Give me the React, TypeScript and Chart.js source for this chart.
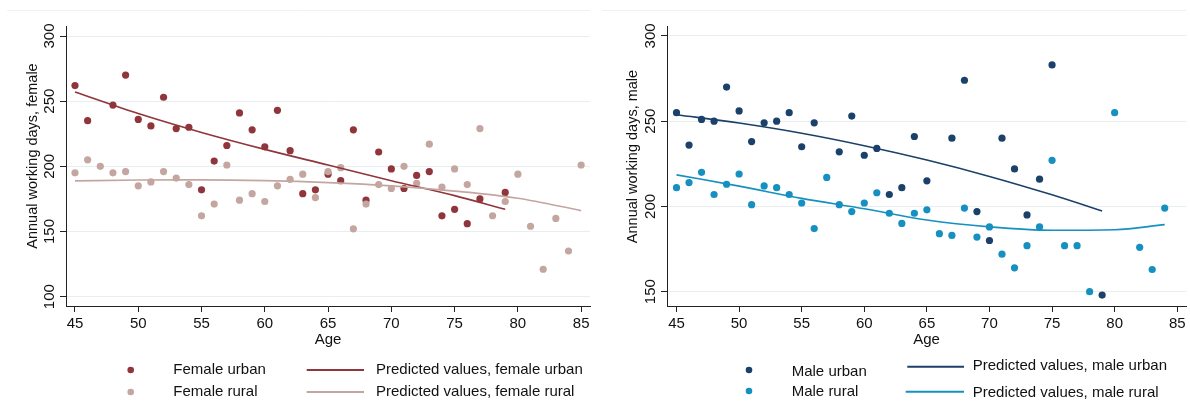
import React, { useEffect, useRef } from 'react';
import { Chart, registerables } from 'chart.js';

Chart.register(...registerables);

const FONT = '"Liberation Sans", Arial, Helvetica, sans-serif';

// ---------- data ----------
const xTicks = [45, 50, 55, 60, 65, 70, 75, 80, 85];
const femaleYTicks = [100, 150, 200, 250, 300];
const maleYTicks = [150, 200, 250, 300];

const femaleUrbanAge = [45, 46, 48, 49, 50, 51, 52, 53, 54, 55, 56, 57, 58, 59, 60, 61, 62, 63, 64, 65, 66, 67, 68, 69, 70, 71, 72, 73, 74, 75, 76, 77, 79];
const femaleUrbanDays = [262, 235, 247, 270, 236, 231, 253, 229, 230, 182, 204, 216, 241, 228, 215, 243, 212, 179, 182, 194, 189, 228, 174, 211, 198, 183, 193, 196, 162, 167, 156, 175, 180];

const femaleRuralAge = [45, 46, 47, 48, 49, 50, 51, 52, 53, 54, 55, 56, 57, 58, 59, 60, 61, 62, 63, 64, 65, 66, 67, 68, 69, 70, 71, 72, 73, 74, 75, 76, 77, 78, 79, 80, 81, 82, 83, 84, 85];
const femaleRuralDays = [195, 205, 200, 195, 196, 185, 188, 196, 191, 186, 162, 171, 201, 174, 179, 173, 185, 190, 194, 176, 196, 199, 152, 171, 186, 183, 200, 187, 217, 184, 198, 186, 229, 162, 173, 194, 154, 121, 160, 135, 201];

const femaleUrbanFitAge = [45, 50, 55, 60, 65, 70, 75, 79];
const femaleUrbanFit = [257, 240.5, 226, 213, 201, 189, 177.5, 167];
const femaleRuralFitAge = [45, 50, 55, 60, 65, 70, 75, 80, 85];
const femaleRuralFit = [188.8, 189.5, 189.6, 189, 187.5, 185, 181, 175.5, 166];

const maleUrbanAge = [45, 46, 47, 48, 49, 50, 51, 52, 53, 54, 55, 56, 58, 59, 60, 61, 62, 63, 64, 65, 67, 68, 69, 70, 71, 72, 73, 74, 75, 79];
const maleUrbanDays = [255, 236, 251, 250, 270, 256, 238, 249, 250, 255, 235, 249, 232, 253, 230, 234, 207, 211, 241, 215, 240, 274, 197, 180, 240, 222, 195, 216, 283, 148];

const maleRuralAge = [45, 46, 47, 48, 49, 50, 51, 52, 53, 54, 55, 56, 57, 58, 59, 60, 61, 62, 63, 64, 65, 66, 67, 68, 69, 70, 71, 72, 73, 74, 75, 76, 77, 78, 80, 82, 83, 84];
const maleRuralDays = [211, 214, 220, 207, 213, 219, 201, 212, 211, 207, 202, 187, 217, 201, 197, 202, 208, 196, 190, 196, 198, 184, 183, 199, 182, 188, 172, 164, 177, 188, 227, 177, 177, 150, 255, 176, 163, 199];

const maleUrbanFitAge = [45, 50, 55, 60, 65, 70, 75, 79];
const maleUrbanFit = [253.8, 248.9, 242.9, 235.6, 227.2, 217.6, 206.8, 197.3];
const maleRuralFitAge = [45, 50, 55, 60, 65, 70, 75, 80, 84];
const maleRuralFit = [218.5, 211.9, 204.7, 198.6, 192, 188, 186, 186.3, 189.3];

// ---------- styles ----------
const C_FU = '#8f353b';
const C_FR = '#c4a6a1';
const C_MU = '#1b416a';
const C_MR = '#1690c0';

type Series = { ages: number[]; values: number[]; color: string; kind: 'dot' | 'line'; order: number };
type LegendItem = { kind: 'dot' | 'line'; color: string; x: number; x2?: number; y: number; text: string; tx: number; ty: number };

type PanelCfg = {
  series: Series[];
  xMin: number; xMax: number; yMin: number; yMax: number;
  yTicks: number[];
  yAxisW: number; padRight: number;
  yTitle: string; yTitleX: number; yTitleY: number; yLabelX: number;
  legend: LegendItem[];
};

function makeChart(canvas: HTMLCanvasElement, cfg: PanelCfg) {
  const datasets = cfg.series.map((s) => ({
    data: s.ages.map((a, i) => ({ x: a, y: s.values[i] })),
    showLine: s.kind === 'line',
    borderColor: s.color,
    backgroundColor: s.color,
    borderWidth: s.kind === 'line' ? 1.6 : 0,
    pointRadius: s.kind === 'dot' ? 3.6 : 0,
    pointBorderWidth: 0,
    pointBackgroundColor: s.color,
    cubicInterpolationMode: 'monotone' as const,
    order: s.order,
  }));

  const textPlugin = {
    id: 'panelText',
    beforeDraw(chart: any) {
      const ctx = chart.ctx;
      const a = chart.chartArea;
      ctx.save();
      ctx.strokeStyle = '#edf3f5';
      ctx.lineWidth = 1;
      ctx.beginPath();
      ctx.moveTo(7, 10.5);
      ctx.lineTo(a.right, 10.5);
      ctx.stroke();
      ctx.restore();
    },
    afterDraw(chart: any) {
      const ctx = chart.ctx;
      const a = chart.chartArea;
      const ys = chart.scales.y;
      ctx.save();
      ctx.fillStyle = '#111';
      ctx.font = `15px ${FONT}`;
      ctx.textAlign = 'center';
      ctx.textBaseline = 'middle';
      for (const v of cfg.yTicks) {
        const py = ys.getPixelForValue(v);
        ctx.save();
        ctx.translate(cfg.yLabelX, py);
        ctx.rotate(-Math.PI / 2);
        ctx.fillText(String(v), 0, 0);
        ctx.restore();
      }
      ctx.save();
      ctx.translate(cfg.yTitleX, cfg.yTitleY);
      ctx.rotate(-Math.PI / 2);
      ctx.font = `14.5px ${FONT}`;
      ctx.fillText(cfg.yTitle, 0, 0);
      ctx.restore();

      ctx.fillText('Age', (a.left + a.right) / 2, 340);

      ctx.textAlign = 'left';
      for (const it of cfg.legend) {
        if (it.kind === 'dot') {
          ctx.fillStyle = it.color;
          ctx.beginPath();
          ctx.arc(it.x, it.y, 3.3, 0, Math.PI * 2);
          ctx.fill();
        } else {
          ctx.strokeStyle = it.color;
          ctx.lineWidth = 2;
          ctx.beginPath();
          ctx.moveTo(it.x, it.y);
          ctx.lineTo(it.x2 as number, it.y);
          ctx.stroke();
        }
        ctx.fillStyle = '#111';
        ctx.fillText(it.text, it.tx, it.ty);
      }
      ctx.restore();
    },
  };

  return new Chart(canvas, {
    type: 'scatter',
    data: { datasets: datasets as any },
    plugins: [textPlugin],
    options: {
      animation: false,
      responsive: false,
      maintainAspectRatio: false,
      devicePixelRatio: 1,
      layout: { padding: { left: 0, top: 26, right: cfg.padRight, bottom: 65 } },
      plugins: { legend: { display: false }, tooltip: { enabled: false } },
      scales: {
        x: {
          type: 'linear',
          min: cfg.xMin,
          max: cfg.xMax,
          afterBuildTicks: (s: any) => { s.ticks = xTicks.map((v) => ({ value: v })); },
          afterFit: (s: any) => { s.height = 30; },
          grid: { drawOnChartArea: false, drawTicks: true, tickLength: 6, tickColor: '#222', tickWidth: 1 },
          border: { color: '#222', width: 1 },
          ticks: {
            color: '#111',
            font: { family: FONT, size: 15 },
            padding: 3,
            maxRotation: 0,
            minRotation: 0,
            autoSkip: false,
            callback: (v: any) => String(v),
          },
        },
        y: {
          type: 'linear',
          min: cfg.yMin,
          max: cfg.yMax,
          afterBuildTicks: (s: any) => { s.ticks = cfg.yTicks.map((v) => ({ value: v })); },
          afterFit: (s: any) => { s.width = cfg.yAxisW; },
          grid: { color: '#e6eef0', drawTicks: true, tickLength: 6, tickColor: '#222', tickWidth: 1 },
          border: { color: '#222', width: 1 },
          ticks: { display: false },
        },
      },
    } as any,
  });
}

const femaleCfg: PanelCfg = {
  series: [
    { ages: femaleUrbanFitAge, values: femaleUrbanFit, color: C_FU, kind: 'line', order: 1 },
    { ages: femaleRuralFitAge, values: femaleRuralFit, color: C_FR, kind: 'line', order: 0 },
    { ages: femaleUrbanAge, values: femaleUrbanDays, color: C_FU, kind: 'dot', order: 3 },
    { ages: femaleRuralAge, values: femaleRuralDays, color: C_FR, kind: 'dot', order: 2 },
  ],
  xMin: 44.29, xMax: 85.7, yMin: 92.8, yMax: 307.7,
  yTicks: femaleYTicks,
  yAxisW: 66, padRight: 5,
  yTitle: 'Annual working days, female', yTitleX: 32.5, yTitleY: 156, yLabelX: 50,
  legend: [
    { kind: 'dot', color: C_FU, x: 130.7, y: 370, text: 'Female urban', tx: 173.3, ty: 370 },
    { kind: 'dot', color: C_FR, x: 130.7, y: 392, text: 'Female rural', tx: 173.3, ty: 392 },
    { kind: 'line', color: C_FU, x: 306.7, x2: 364, y: 370, text: 'Predicted values, female urban', tx: 376, ty: 370 },
    { kind: 'line', color: C_FR, x: 306.7, x2: 364, y: 392, text: 'Predicted values, female rural', tx: 376, ty: 392 },
  ],
};

const maleCfg: PanelCfg = {
  series: [
    { ages: maleUrbanFitAge, values: maleUrbanFit, color: C_MU, kind: 'line', order: 1 },
    { ages: maleRuralFitAge, values: maleRuralFit, color: C_MR, kind: 'line', order: 0 },
    { ages: maleUrbanAge, values: maleUrbanDays, color: C_MU, kind: 'dot', order: 3 },
    { ages: maleRuralAge, values: maleRuralDays, color: C_MR, kind: 'dot', order: 2 },
  ],
  xMin: 44.24, xMax: 85.7, yMin: 141.6, yMax: 305.8,
  yTicks: maleYTicks,
  yAxisW: 72, padRight: 0,
  yTitle: 'Annual working days, male', yTitleX: 37.5, yTitleY: 156.5, yLabelX: 55.5,
  legend: [
    { kind: 'dot', color: C_MU, x: 154, y: 370, text: 'Male urban', tx: 196.7, ty: 371.7 },
    { kind: 'dot', color: C_MR, x: 154, y: 391, text: 'Male rural', tx: 196.7, ty: 392 },
    { kind: 'line', color: C_MU, x: 312.3, x2: 369, y: 366.7, text: 'Predicted values, male urban', tx: 377.7, ty: 365.7 },
    { kind: 'line', color: C_MR, x: 310.7, x2: 369, y: 391.7, text: 'Predicted values, male rural', tx: 377.7, ty: 393.3 },
  ],
};

function Panel({ cfg, left }: { cfg: PanelCfg; left: number }) {
  const ref = useRef<HTMLCanvasElement | null>(null);
  useEffect(() => {
    if (!ref.current) return;
    const ch = makeChart(ref.current, cfg);
    return () => ch.destroy();
  }, [cfg]);
  return (
    <canvas
      ref={ref}
      width={595}
      height={401}
      style={{ position: 'absolute', left, top: 0, width: 595, height: 401, display: 'block' }}
    />
  );
}

export default function App() {
  return (
    <div style={{ position: 'absolute', left: 0, top: 0, width: 1190, height: 401, background: '#fff', overflow: 'hidden' }}>
      <Panel cfg={femaleCfg} left={0} />
      <Panel cfg={maleCfg} left={595} />
    </div>
  );
}
